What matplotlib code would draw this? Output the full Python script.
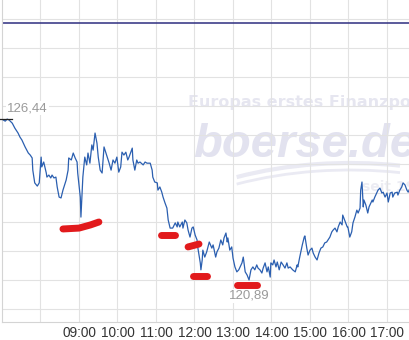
import matplotlib
matplotlib.use("Agg")
import matplotlib.pyplot as plt
from matplotlib.patches import Arc
import numpy as np

# ── data ───────────────────────────────────────────────────────────────────────

TIMES = [
    "07:02", "07:05", "07:08", "07:11", "07:16", "07:20", "07:25", "07:28", "07:31", "07:36",
    "07:41", "07:44", "07:47", "07:48", "07:51", "07:55", "07:58", "08:01", "08:02", "08:05",
    "08:09", "08:10", "08:13", "08:16", "08:18", "08:21", "08:24", "08:26", "08:29", "08:32",
    "08:35", "08:40", "08:43", "08:44", "08:48", "08:51", "08:54", "08:57", "08:58", "09:02",
    "09:03", "09:05", "09:06", "09:09", "09:12", "09:14", "09:17", "09:20", "09:22", "09:25",
    "09:28", "09:30", "09:33", "09:36", "09:39", "09:42", "09:44", "09:47", "09:50", "09:53",
    "09:56", "09:59", "10:02", "10:05", "10:07", "10:10", "10:13", "10:16", "10:18", "10:23",
    "10:24", "10:27", "10:30", "10:32", "10:35", "10:40", "10:43", "10:46", "10:51", "10:54",
    "10:55", "10:58", "11:02", "11:03", "11:06", "11:09", "11:11", "11:14", "11:17", "11:19",
    "11:22", "11:26", "11:30", "11:33", "11:34", "11:37", "11:41", "11:42", "11:45", "11:48",
    "11:50", "11:53", "11:56", "11:58", "12:01", "12:04", "12:05", "12:09", "12:10", "12:12",
    "12:13", "12:16", "12:19", "12:23", "12:27", "12:29", "12:33", "12:35", "12:38", "12:41",
    "12:44", "12:46", "12:49", "12:51", "12:52", "12:55", "12:58", "13:00", "13:03", "13:06",
    "13:09", "13:14", "13:16", "13:19", "13:22", "13:25", "13:28", "13:31", "13:34", "13:37",
    "13:39", "13:42", "13:45", "13:47", "13:50", "13:53", "13:55", "13:58", "13:59", "14:02",
    "14:04", "14:07", "14:09", "14:12", "14:15", "14:18", "14:21", "14:24", "14:26", "14:29",
    "14:33", "14:37", "14:40", "14:41", "14:44", "14:48", "14:51", "14:52", "14:55", "14:57",
    "15:00", "15:03", "15:05", "15:08", "15:11", "15:14", "15:17", "15:20", "15:23", "15:26",
    "15:28", "15:31", "15:34", "15:36", "15:39", "15:42", "15:44", "15:47", "15:50", "15:51",
    "15:55", "15:58", "15:59", "16:02", "16:05", "16:07", "16:10", "16:13", "16:15", "16:18",
    "16:19", "16:21", "16:23", "16:24", "16:27", "16:30", "16:32", "16:37", "16:38", "16:41",
    "16:44", "16:46", "16:49", "16:52", "16:54", "16:57", "17:00", "17:02", "17:05", "17:08",
    "17:09", "17:12", "17:16", "17:17", "17:20", "17:23", "17:25", "17:28", "17:31", "17:33",
    "17:36",
]

PRICES = [
    126.41, 126.37, 126.44, 126.41, 126.30, 126.13, 125.96, 125.82, 125.72, 125.48,
    125.27, 125.20, 125.10, 124.68, 124.24, 124.13, 124.24, 125.13, 124.79, 124.96,
    124.58, 124.44, 124.51, 124.41, 124.51, 124.41, 124.44, 124.10, 123.75, 123.72,
    123.99, 124.34, 124.68, 125.10, 125.03, 125.27, 125.10, 124.96, 124.58, 123.75,
    123.06, 123.99, 124.44, 125.13, 124.86, 125.27, 124.92, 125.55, 125.37, 125.96,
    125.61, 125.13, 124.68, 124.58, 125.48, 125.27, 125.13, 124.92, 124.68, 125.03,
    124.92, 125.13, 124.61, 124.79, 125.30, 125.20, 125.30, 125.03, 125.13, 125.44,
    125.03, 124.68, 125.03, 124.92, 124.96, 124.86, 124.96, 124.92, 124.92, 124.68,
    124.44, 124.27, 124.24, 123.99, 124.10, 123.92, 123.75, 123.55, 123.37, 122.96,
    122.68, 122.68, 122.86, 122.72, 122.89, 122.72, 122.89, 122.68, 122.96, 122.86,
    122.61, 122.37, 122.68, 122.72, 122.44, 122.27, 122.03, 121.48, 121.24, 121.58,
    121.92, 121.68, 121.86, 122.20, 121.99, 122.10, 121.68, 121.86, 121.99, 122.27,
    122.10, 122.34, 122.51, 122.20, 122.34, 121.92, 122.03, 121.65, 121.34, 121.17,
    121.24, 121.48, 121.68, 121.17, 121.06, 120.89, 121.24, 121.34, 121.24, 121.41,
    121.30, 121.24, 121.13, 121.30, 121.48, 121.17, 121.34, 120.99, 121.48, 121.41,
    121.58, 121.34, 121.51, 121.24, 121.51, 121.41, 121.30, 121.48, 121.30, 121.34,
    121.24, 121.17, 121.41, 121.34, 121.68, 122.10, 122.37, 122.41, 121.99, 121.75,
    121.92, 121.99, 121.82, 121.68, 121.58, 121.82, 121.99, 122.03, 122.17, 122.20,
    122.27, 122.37, 122.55, 122.61, 122.68, 122.55, 122.72, 122.89, 122.79, 123.13,
    122.89, 122.72, 122.72, 122.37, 122.55, 122.86, 123.06, 123.30, 123.20, 123.37,
    123.99, 124.27, 123.41, 123.65, 123.48, 123.20, 123.41, 123.65, 123.58, 123.75,
    123.89, 123.99, 124.06, 123.89, 123.92, 123.75, 123.89, 123.58, 123.89, 123.92,
    123.75, 123.89, 123.92, 123.82, 123.99, 124.10, 124.24, 124.17, 123.99, 123.92,
    124.06,
]

PREV_CLOSE = 129.75
HIGH_TIME, HIGH_LABEL = "07:08", "126,44"
LOW_TIME, LOW_LABEL = "13:25", "120,89"

HOUR_TICKS = ["08:00", "09:00", "10:00", "11:00", "12:00", "13:00",
              "14:00", "15:00", "16:00", "17:00", "18:00"]
HOUR_LABELS = ["", "09:00", "10:00", "11:00", "12:00", "13:00",
               "14:00", "15:00", "16:00", "17:00", "18:00"]
GRID_LEVELS = [119.9, 120.9, 121.9, 122.9, 123.9, 124.9,
               125.9, 126.9, 127.9, 128.9, 129.9]

# hand-drawn red highlight strokes
MARK_TIMES = [
    ["08:35", "09:00", "09:18", "09:31"],
    ["11:08", "11:29"],
    ["11:50", "12:07"],
    ["11:58", "12:19"],
    ["13:07", "13:37"],
]
MARK_PRICES = [
    [122.65, 122.68, 122.79, 122.89],
    [122.44, 122.44],
    [122.03, 122.13],
    [121.03, 121.03],
    [120.72, 120.72],
]


def hours(t):
    h, m = t.split(":")
    return int(h) + int(m) / 60


# ── figure ─────────────────────────────────────────────────────────────────────

fig = plt.figure(figsize=(4.10, 3.40), dpi=100)
fig.patch.set_facecolor("white")
# axes run past the right edge of the picture (chart is cropped there)
ax = fig.add_axes([2 / 410, 18 / 340, 442.75 / 410, 322 / 340])
ax.set_facecolor("white")

x = np.array([hours(t) for t in TIMES])
y = np.array(PRICES)

ax.set_xlim(7.0, 18.5)
ax.set_ylim(119.44, 130.55)

ax.set_xticks([hours(t) for t in HOUR_TICKS])
ax.set_xticklabels(HOUR_LABELS, fontsize=9.8, color="#333333",
                   family=["Liberation Sans", "DejaVu Sans"])
ax.set_yticks(GRID_LEVELS)
ax.set_yticklabels([])
ax.tick_params(axis="both", length=0, pad=3)
ax.grid(True, color="#e2e2e2", linewidth=0.8)
ax.set_axisbelow(True)
for side in ["top", "right"]:
    ax.spines[side].set_visible(False)
for side in ["left", "bottom"]:
    ax.spines[side].set_color("#d4d4d4")
    ax.spines[side].set_linewidth(0.8)

# watermark
ax.text(188 / 410, 1 - 102 / 340, "Europas erstes Finanzportal",
        transform=fig.transFigure, ha="left", va="center",
        fontsize=11.5, fontweight="bold", color="#e6e6f0", zorder=0.2,
        family=["DejaVu Sans"])
ax.text(193 / 410, 1 - 157 / 340, "boerse.de",
        transform=fig.transFigure, ha="left", va="baseline",
        fontsize=34, fontweight="bold", style="italic", color="#e2e2ef",
        zorder=0.2, family=["Liberation Sans", "DejaVu Sans"])
ax.text(362 / 410, 1 - 187 / 340, "seit 1996",
        transform=fig.transFigure, ha="left", va="center",
        fontsize=10, fontweight="bold", color="#ececf3", zorder=0.2,
        family=["DejaVu Sans"])
for off, lw in [(0, 3.0), (7, 2.0)]:
    arc = Arc((3.50, 0.37 - off / 100), 5.18, 2.8, theta1=70, theta2=132,
              transform=fig.dpi_scale_trans, color="#eaeaf3",
              linewidth=lw, zorder=0.3)
    ax.add_artist(arc)

# previous close
ax.axhline(PREV_CLOSE, color="#2e2e80", linewidth=1.1, zorder=2)

# price line
ax.plot(x, y, color="#2b5fb0", linewidth=0.9, zorder=3)

# high / low markers
ax.plot([hours("06:57"), hours("07:16")], [max(PRICES)] * 2,
        color="#222222", linewidth=0.9, clip_on=False, zorder=4)
ax.annotate(HIGH_LABEL, (hours(HIGH_TIME), max(PRICES)),
            xytext=(14.5, 8), textcoords="offset points",
            ha="center", va="center", fontsize=9.5, color="#9a9a9a",
            family=["Liberation Sans", "DejaVu Sans"],
            bbox=dict(boxstyle="square,pad=0.1", facecolor="white",
                      edgecolor="none"), zorder=5)
ax.annotate(LOW_LABEL, (hours(LOW_TIME), min(PRICES)),
            xytext=(0.5, -11.5), textcoords="offset points",
            ha="center", va="center", fontsize=9.5, color="#9a9a9a",
            family=["Liberation Sans", "DejaVu Sans"],
            bbox=dict(boxstyle="square,pad=0.1", facecolor="white",
                      edgecolor="none"), zorder=5)

# red highlight strokes
for mt, mp in zip(MARK_TIMES, MARK_PRICES):
    ax.plot([hours(t) for t in mt], mp, color="#e21a1c", linewidth=5.0,
            solid_capstyle="round", solid_joinstyle="round", zorder=6)

fig.savefig("out.png", dpi=100, facecolor="white")
